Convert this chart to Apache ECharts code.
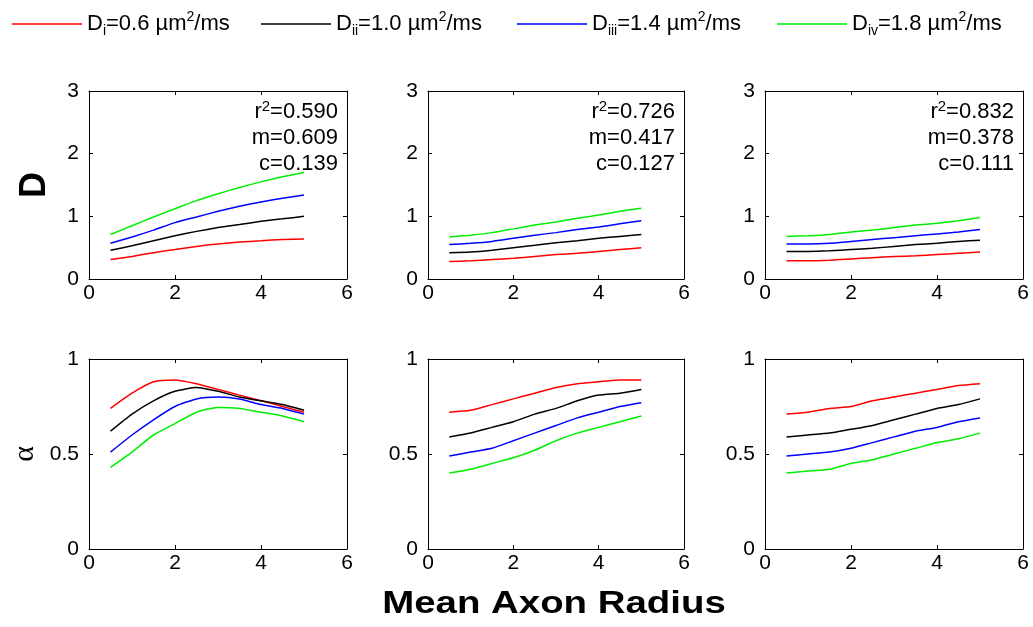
<!DOCTYPE html>
<html>
<head>
<meta charset="utf-8">
<script src="https://cdn.jsdelivr.net/npm/echarts@6/dist/echarts.min.js"></script>
<style>
  html, body { margin: 0; padding: 0; background: #fff; }
  #chart { width: 1033px; height: 627px; }
</style>
</head>
<body>
<div id="chart"></div>
<script>
  // mean axon radius (x)
  const radius = [0.5, 1, 1.5, 2, 2.5, 3, 3.5, 4, 4.5, 5]
  const seriesNames = ['Di', 'Dii', 'Diii', 'Div']
  const subscripts = ['i', 'ii', 'iii', 'iv']
  const diffusivity = ['0.6', '1.0', '1.4', '1.8']
  const lineColors = ['#ff0000', '#000000', '#0000ff', '#00ee00']

  // D, rows: Di, Dii, Diii, Div
  const dPanel1 = [
    [0.31, 0.36, 0.42, 0.47, 0.52, 0.56, 0.59, 0.61, 0.63, 0.64],
    [0.46, 0.53, 0.61, 0.69, 0.76, 0.82, 0.87, 0.92, 0.96, 1.00],
    [0.57, 0.67, 0.78, 0.90, 0.99, 1.08, 1.16, 1.23, 1.29, 1.34],
    [0.71, 0.85, 0.99, 1.12, 1.25, 1.36, 1.46, 1.55, 1.63, 1.70],
  ]
  const dPanel2 = [
    [0.28, 0.29, 0.31, 0.33, 0.36, 0.39, 0.41, 0.44, 0.47, 0.50],
    [0.42, 0.43, 0.46, 0.50, 0.54, 0.58, 0.61, 0.65, 0.68, 0.71],
    [0.55, 0.57, 0.60, 0.65, 0.70, 0.74, 0.79, 0.83, 0.88, 0.93],
    [0.67, 0.70, 0.74, 0.80, 0.86, 0.91, 0.97, 1.02, 1.08, 1.13],
  ]
  const dPanel3 = [
    [0.29, 0.29, 0.30, 0.32, 0.34, 0.36, 0.37, 0.39, 0.41, 0.43],
    [0.44, 0.44, 0.45, 0.47, 0.49, 0.52, 0.55, 0.57, 0.60, 0.62],
    [0.56, 0.56, 0.57, 0.60, 0.63, 0.66, 0.69, 0.72, 0.75, 0.79],
    [0.68, 0.69, 0.71, 0.75, 0.78, 0.82, 0.86, 0.89, 0.93, 0.98],
  ]
  // alpha
  const aPanel1 = [
    [0.74, 0.82, 0.88, 0.89, 0.87, 0.84, 0.81, 0.78, 0.75, 0.72],
    [0.62, 0.71, 0.78, 0.83, 0.85, 0.83, 0.80, 0.78, 0.76, 0.73],
    [0.51, 0.60, 0.68, 0.75, 0.79, 0.80, 0.79, 0.76, 0.74, 0.71],
    [0.43, 0.51, 0.60, 0.66, 0.72, 0.745, 0.74, 0.72, 0.70, 0.67],
  ]
  const aPanel2 = [
    [0.72, 0.73, 0.76, 0.79, 0.82, 0.85, 0.87, 0.88, 0.89, 0.89],
    [0.59, 0.61, 0.64, 0.67, 0.71, 0.74, 0.78, 0.81, 0.82, 0.84],
    [0.49, 0.51, 0.53, 0.57, 0.61, 0.65, 0.69, 0.72, 0.75, 0.77],
    [0.40, 0.42, 0.45, 0.48, 0.52, 0.57, 0.61, 0.64, 0.67, 0.70],
  ]
  const aPanel3 = [
    [0.71, 0.72, 0.74, 0.75, 0.78, 0.80, 0.82, 0.84, 0.86, 0.87],
    [0.59, 0.60, 0.61, 0.63, 0.65, 0.68, 0.71, 0.74, 0.76, 0.79],
    [0.49, 0.50, 0.51, 0.53, 0.56, 0.59, 0.62, 0.64, 0.67, 0.69],
    [0.40, 0.41, 0.42, 0.45, 0.47, 0.50, 0.53, 0.56, 0.58, 0.61],
  ]
  const panels = [dPanel1, dPanel2, dPanel3, aPanel1, aPanel2, aPanel3]

  // fit results shown in the D panels
  const r2 = ['0.590', '0.726', '0.832']
  const slope = ['0.609', '0.417', '0.378']
  const intercept = ['0.139', '0.127', '0.111']

  const xTicks = { min: 0, max: 6, interval: 2 }
  const dTicks = { min: 0, max: 3, interval: 1 }
  const aTicks = { min: 0, max: 1, interval: 0.5 }

  // layout: [left, top, width, height]
  const boxes = [
    [89, 91, 258, 188], [428, 91, 256, 188], [765, 91, 258, 188],
    [89, 359, 258, 190], [428, 359, 256, 190], [765, 359, 258, 190],
  ]
  const legendLeft = [12, 261, 517, 777]
  const font = 'Liberation Sans, Arial, sans-serif'

  const chart = echarts.init(document.getElementById('chart'))

  const axisCommon = (show, position) => ({
    position: position,
    axisLine: { show: true, onZero: false, lineStyle: { color: '#000', width: 1 } },
    axisTick: { show: true, inside: true, length: 4, lineStyle: { color: '#000', width: 1 } },
    axisLabel: { show: show, color: '#000', fontSize: 21, fontFamily: font },
    splitLine: { show: false },
  })

  const grid = []
  const xAxis = []
  const yAxis = []
  const series = []
  boxes.forEach((b, i) => {
    grid.push({ left: b[0], top: b[1], width: b[2], height: b[3] })
    const yt = i < 3 ? dTicks : aTicks
    const xb = axisCommon(true, 'bottom')
    xb.axisLabel.margin = 4
    xAxis.push(Object.assign({ gridIndex: i, type: 'value' }, xTicks, xb))
    xAxis.push(Object.assign({ gridIndex: i, type: 'value' }, xTicks, axisCommon(false, 'top')))
    const yl = axisCommon(true, 'left')
    yl.axisLabel.margin = 10
    yAxis.push(Object.assign({ gridIndex: i, type: 'value' }, yt, yl))
    yAxis.push(Object.assign({ gridIndex: i, type: 'value' }, yt, axisCommon(false, 'right')))
    panels[i].forEach((vals, k) => {
      series.push({
        type: 'line',
        name: seriesNames[k],
        xAxisIndex: 2 * i,
        yAxisIndex: 2 * i,
        symbol: 'none',
        smooth: 0.2,
        lineStyle: { color: lineColors[k], width: 1.5 },
        itemStyle: { color: lineColors[k] },
        data: radius.map((r, j) => [r, vals[j]]),
      })
    })
  })

  const legendRich = {
    b: { fontSize: 22, fontFamily: font, color: '#000', lineHeight: 28 },
    sub: { fontSize: 14, fontFamily: font, color: '#000', lineHeight: 14, verticalAlign: 'bottom' },
    sup: { fontSize: 14, fontFamily: font, color: '#000', lineHeight: 14, verticalAlign: 'top' },
  }
  const legend = seriesNames.map((name, k) => ({
    data: [name],
    left: legendLeft[k],
    top: 10,
    padding: 0,
    icon: 'rect',
    itemWidth: 70,
    itemHeight: 1.5,
    selectedMode: false,
    formatter: () => `{b|D}{sub|${subscripts[k]}}{b|=${diffusivity[k]} \u00b5m}{sup|2}{b|/ms}`,
    textStyle: { fontSize: 22, fontFamily: font, color: '#000', rich: legendRich },
  }))

  const annRich = {
    t: { fontSize: 22, fontFamily: font, fill: '#000', lineHeight: 26 },
    sup: { fontSize: 15, fontFamily: font, fill: '#000', lineHeight: 14, verticalAlign: 'top' },
  }
  const graphic = []
  for (let i = 0; i < 3; i++) {
    const b = boxes[i]
    graphic.push({
      type: 'text',
      x: b[0] + b[2] - 9,
      y: b[1] + 8,
      style: {
        text: `{t|r}{sup|2}{t|=${r2[i]}}\n{t|m=${slope[i]}}\n{t|c=${intercept[i]}}`,
        align: 'right',
        verticalAlign: 'top',
        rich: annRich,
        fill: '#000',
      },
    })
  }
  graphic.push({
    type: 'text', x: 35, y: 185, rotation: Math.PI / 2,
    style: { text: 'D', font: 'bold 36px Liberation Sans, Arial, sans-serif', fill: '#000', align: 'center', verticalAlign: 'middle' },
  })
  graphic.push({
    type: 'text', x: 25, y: 454, rotation: Math.PI / 2,
    style: { text: '\u03b1', font: '30px Liberation Serif, serif', fill: '#000', align: 'center', verticalAlign: 'middle' },
  })
  graphic.push({
    type: 'text', x: 554, y: 604, scaleX: 1.2,
    style: { text: 'Mean Axon Radius', font: 'bold 32px Liberation Sans, Arial, sans-serif', fill: '#000', align: 'center', verticalAlign: 'middle' },
  })

  const option = {
    backgroundColor: '#fff',
    animation: false,
    legend: legend,
    grid: grid,
    xAxis: xAxis,
    yAxis: yAxis,
    series: series,
    graphic: graphic,
  }
  option && chart.setOption(option)
</script>
</body>
</html>
